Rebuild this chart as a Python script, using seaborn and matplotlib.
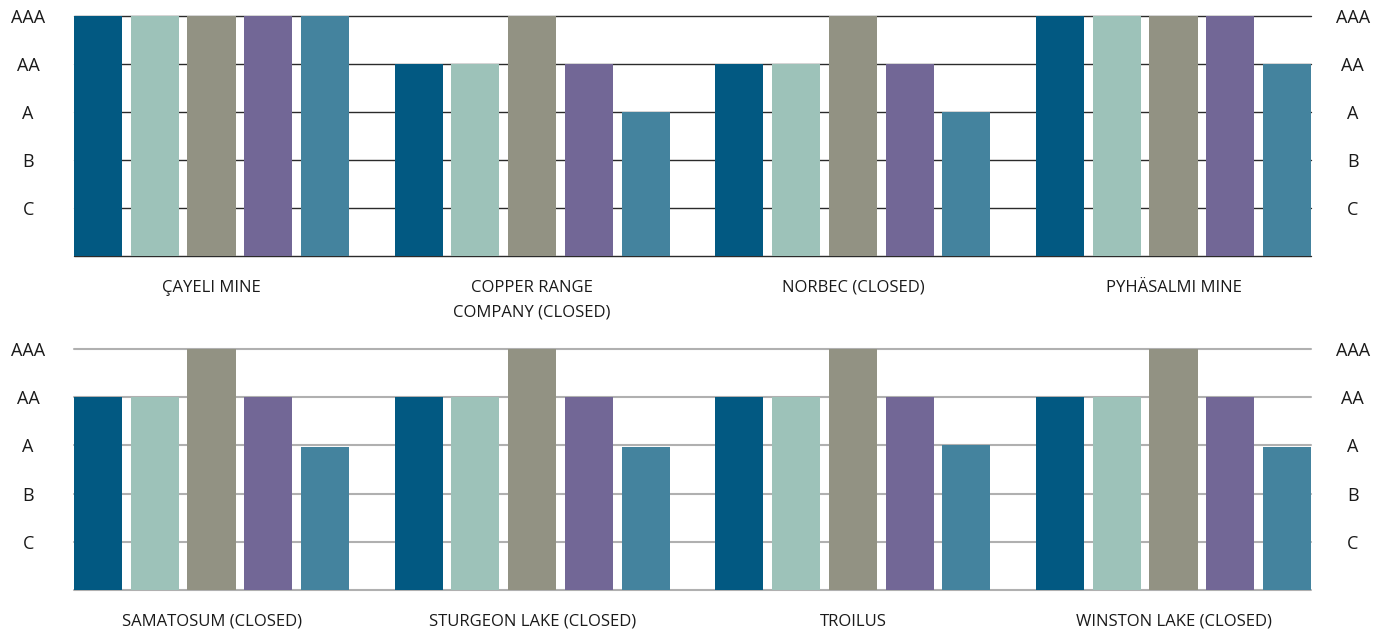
import matplotlib
matplotlib.use("Agg")
import matplotlib.pyplot as plt
import seaborn as sns
import pandas as pd

sns.set_theme(style="white")
plt.rcParams['font.family'] = ['Open Sans', 'DejaVu Sans']

# ---- data ----
rating_labels = ["", "C", "B", "A", "AA", "AAA"]   # 0..5
series = ["Series 1", "Series 2", "Series 3", "Series 4", "Series 5"]
colors = ["#025982", "#9DC2B9", "#929283", "#726796", "#44839E"]

mines_top = ["ÇAYELI MINE", "COPPER RANGE\nCOMPANY (CLOSED)", "NORBEC (CLOSED)", "PYHÄSALMI MINE"]
values_top = [
    [5, 5, 5, 5, 5],
    [4, 4, 5, 4, 3],
    [4, 4, 5, 4, 3],
    [5, 5, 5, 5, 4],
]

mines_bottom = ["SAMATOSUM (CLOSED)", "STURGEON LAKE (CLOSED)", "TROILUS", "WINSTON LAKE (CLOSED)"]
values_bottom = [
    [4, 4, 5, 4, 2.96],
    [4, 4, 5, 4, 2.96],
    [4, 4, 5, 4, 3],
    [4, 4, 5, 4, 2.96],
]


def to_frame(mines, values):
    rows = []
    for m, vals in zip(mines, values):
        for s, v in zip(series, vals):
            rows.append({"mine": m, "series": s, "value": v})
    return pd.DataFrame(rows)


fig = plt.figure(figsize=(13.91, 6.34), dpi=100)
ax_top = fig.add_axes([74 / 1391, 1 - 256 / 634, 1237 / 1391, 240 / 634])
ax_bot = fig.add_axes([74 / 1391, 1 - 590 / 634, 1237 / 1391, 241 / 634])

W = 0.885
G = 0.154
for ax, mines, values, gcol, lw in [
    (ax_top, mines_top, values_top, "#2b2b2b", 1.0),
    (ax_bot, mines_bottom, values_bottom, "#B0B0B0", 1.5),
]:
    df = to_frame(mines, values)
    sns.barplot(data=df, x="mine", y="value", hue="series", order=mines,
                hue_order=series, palette=colors, width=W, gap=G,
                saturation=1, legend=False, ax=ax, zorder=3, linewidth=0)
    ax.set_xlim(-0.4288, 3.4288)
    ax.set_ylim(0, 5)
    ax.set_yticks(range(6))
    ax.set_yticklabels(rating_labels)
    ax.set_xlabel("")
    ax.set_ylabel("")
    for sp in ax.spines.values():
        sp.set_visible(False)
    ax.set_axisbelow(True)
    ax.yaxis.grid(True, color=gcol, linewidth=lw)
    for gl in ax.get_ygridlines():
        gl.set_clip_on(False)
    ax.tick_params(axis="y", length=0, pad=33, labelsize=13, labelcolor="#1a1a1a")
    for t in ax.get_yticklabels():
        t.set_horizontalalignment("center")
    ax.tick_params(axis="x", length=0, pad=17, labelsize=12, labelcolor="#1a1a1a")
    for t in ax.get_xticklabels():
        t.set_linespacing(1.7)

    ax2 = ax.twinx()
    ax2.set_ylim(0, 5)
    ax2.set_yticks(range(6))
    ax2.set_yticklabels(rating_labels)
    for sp in ax2.spines.values():
        sp.set_visible(False)
    ax2.tick_params(axis="y", length=0, pad=30, labelsize=13, labelcolor="#1a1a1a")
    for t in ax2.get_yticklabels():
        t.set_horizontalalignment("center")
    ax2.grid(False)

fig.savefig("out.png", dpi=100)
